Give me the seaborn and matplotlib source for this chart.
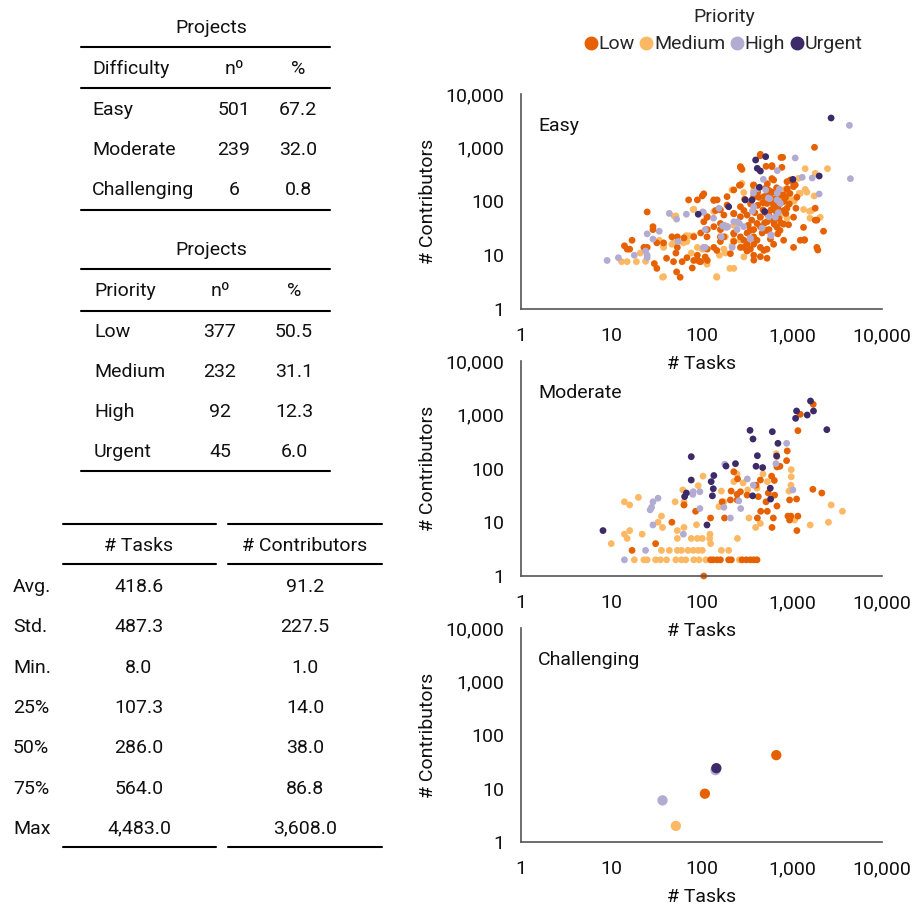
import matplotlib
matplotlib.use("Agg")
import matplotlib.pyplot as plt
from matplotlib.lines import Line2D
from matplotlib.ticker import FixedLocator, FuncFormatter, NullLocator
import pandas as pd
import seaborn as sns

# --- summary tables ---
difficulty_names = ["Easy", "Moderate", "Challenging"]
difficulty_counts = [501, 239, 6]
difficulty_pcts = [67.2, 32.0, 0.8]

priorities = ["Low", "Medium", "High", "Urgent"]
priority_counts = [377, 232, 92, 45]
priority_pcts = [50.5, 31.1, 12.3, 6.0]
priority_colors = ["#e66101", "#fdb863", "#b2abd2", "#3d2a68"]

stat_names = ["Avg.", "Std.", "Min.", "25%", "50%", "75%", "Max"]
stat_tasks = [418.6, 487.3, 8.0, 107.3, 286.0, 564.0, 4483.0]
stat_contributors = [91.2, 227.5, 1.0, 14.0, 38.0, 86.8, 3608.0]

# --- scatter points (tasks, contributors) ---
easy_urgent = [(2730, 3575), (514, 683), (398, 592), (415, 414), (449, 369), (1030, 258),
               (2014, 298), (438, 184), (306, 107), (363, 107), (200, 80), (92, 58), (501, 65)]

easy_high = [(4355, 2612), (4467, 266), (1093, 645), (691, 375), (1306, 282), (1686, 274),
             (2014, 138), (484, 258), (419, 173), (514, 164), (569, 113), (686, 107), (44, 60),
             (53, 47), (68, 58), (103, 64), (156, 75), (34, 28), (25, 25), (29, 20), (55, 18),
             (110, 14), (24, 12), (18, 10), (25, 10), (25, 9), (12, 9), (9, 8), (166, 22),
             (348, 20), (589, 23), (248, 30), (294, 34), (379, 80), (555, 52), (658, 51),
             (376, 144), (728, 170), (691, 144), (550, 116), (746, 93), (709, 62), (366, 66),
             (251, 42), (195, 34), (180, 36), (136, 49), (105, 63), (110, 30), (105, 14),
             (219, 14), (347, 21), (468, 32), (589, 24), (171, 35), (189, 33), (228, 42), (263, 39)]

easy_medium = [(2489, 408), (1820, 334), (1409, 408), (1189, 270), (1210, 142), (1409, 168),
               (1774, 127), (1352, 71), (1574, 66), (2065, 51), (1066, 102), (38, 4), (147, 4),
               (206, 5.7), (228, 5.7), (13, 7.6), (15, 7.6), (19, 7.6), (24, 7.7), (21, 11),
               (38, 15), (47, 16), (69, 23), (82, 23), (52, 54), (82, 72), (63, 17), (77, 11),
               (102, 13), (158, 10), (177, 13), (218, 15), (270, 19), (228, 36), (137, 65),
               (218, 164), (281, 218), (379, 164), (514, 30), (646, 37), (746, 54), (885, 49),
               (468, 100), (813, 164), (1021, 107), (34, 19), (38, 14), (49, 17), (50, 53),
               (67, 23), (74, 23), (81, 71), (69, 18), (90, 14), (105, 13), (148, 3.9),
               (37, 3.9), (115, 6.8), (294, 147), (741, 97), (890, 114), (1236, 141),
               (1470, 149), (1660, 68), (1590, 49), (184, 22), (226, 19), (295, 9.3), (184, 11)]

easy_low = [(1787, 1018), (449, 754), (792, 664), (604, 445), (519, 451), (270, 445), (281, 396),
            (778, 432), (630, 251), (885, 234), (962, 251), (1047, 218), (885, 168), (1093, 203),
            (270, 203), (379, 203), (228, 164), (192, 123), (137, 107), (102, 127), (90, 107),
            (72, 107), (149, 107), (270, 80), (379, 123), (489, 123), (578, 123), (686, 142),
            (813, 132), (532, 92), (630, 86), (746, 92), (885, 75), (1112, 75), (589, 70),
            (686, 60), (449, 52), (532, 42), (630, 42), (813, 38), (922, 37), (449, 34),
            (379, 30), (320, 26), (379, 22), (270, 22), (228, 26), (192, 34), (162, 30),
            (137, 34), (116, 30), (98, 26), (82, 22), (106, 42), (116, 52), (177, 56), (228, 60),
            (270, 52), (320, 56), (162, 70), (192, 86), (228, 18), (270, 14), (320, 16),
            (379, 16), (449, 14), (532, 13), (630, 16), (348, 13), (379, 10), (449, 9.4),
            (532, 8.8), (320, 12), (177, 22), (162, 18), (137, 14), (116, 13), (90, 10),
            (116, 8), (98, 7.6), (82, 8), (69, 9), (52, 11), (54, 14), (64, 21), (54, 22),
            (47, 22), (38, 17), (32, 17), (29, 34), (29, 30), (25, 64), (17, 19), (14, 15),
            (15, 13), (16, 13), (23, 14), (25, 14), (30, 7), (32, 5.7), (41, 8.8), (49, 7.6),
            (61, 7.6), (53, 4.9), (58, 3.9), (79, 5.8), (91, 8), (96, 7.6), (1387, 19.5),
            (1897, 14), (1945, 12.5), (2249, 28), (1820, 45), (1820, 75), (1140, 120),
            (1047, 189), (447, 710), (270, 430), (603, 465), (760, 660), (263, 200), (376, 200),
            (537, 214), (603, 267), (891, 174), (955, 141), (851, 118), (532, 129), (603, 97),
            (660, 68), (532, 59), (447, 51), (412, 39), (630, 45), (741, 29), (1380, 19),
            (1900, 45), (106, 139), (137, 105), (143, 68), (115, 51), (162, 39), (228, 59),
            (295, 68), (347, 29), (295, 19), (228, 25), (162, 22), (115, 22), (110, 9.3),
            (148, 12.3), (209, 10.7), (295, 14), (412, 19), (490, 12.3), (380, 8.1),
            (813, 68), (1047, 51), (686, 33), (532, 29), (813, 19), (1047, 14), (1242, 19),
            (1350, 33), (420, 150), (480, 95), (560, 160), (650, 110), (700, 75), (760, 130),
            (820, 100), (560, 55), (640, 38), (720, 48), (480, 70), (420, 85), (360, 45),
            (330, 36), (470, 26), (580, 20), (700, 25), (760, 40), (860, 60), (940, 90),
            (350, 90), (300, 110), (520, 180), (610, 150), (680, 180), (430, 120), (500, 40),
            (560, 30), (390, 62), (600, 110)]

moderate_urgent = [(1614, 1803), (1131, 1175), (1103, 858), (1483, 989), (1741, 1175),
                   (2447, 528), (345, 513), (372, 354), (609, 484), (703, 294), (680, 171),
                   (416, 173), (77, 166), (402, 110), (476, 104), (238, 123), (187, 111),
                   (137, 74), (77, 61), (128, 57), (68, 35), (65, 30), (135, 42), (132, 31),
                   (369, 31), (578, 43), (583, 27), (115, 8.9), (8.1, 7)]

moderate_high = [(877, 294), (668, 123), (181, 120), (1030, 40), (322, 64), (375, 49), (96, 37),
                 (81, 37), (80, 33), (33, 28), (29, 24), (28, 19), (27, 17), (96, 18), (177, 19),
                 (259, 25), (272, 18), (209, 12), (29, 8.9), (63, 6), (24, 3), (14, 2)]

moderate_medium = [(14, 24), (16, 21), (20, 29), (51, 24), (64, 24), (64, 21), (62, 40),
                   (104, 72), (92, 48), (166, 38), (248, 79), (228, 57), (289, 54), (325, 40),
                   (412, 43), (480, 79), (536, 57), (674, 189), (686, 166), (987, 95), (987, 70),
                   (979, 49), (931, 38), (156, 19.5), (177, 24), (36, 13), (33, 10), (37, 8),
                   (54, 7), (64, 8), (88, 9), (336, 12), (398, 8), (449, 9.5), (15, 5), (14, 6),
                   (16, 7), (22, 6), (10, 4), (54, 5), (77, 5), (90, 5), (102, 5), (123, 5),
                   (124, 6), (126, 4), (250, 5), (36, 3), (44, 3), (54, 3), (60, 3), (71, 3),
                   (81, 3), (92, 3), (102, 3), (166, 3), (200, 3), (18, 2), (23, 2), (25, 2),
                   (31, 2), (35, 2), (41, 2), (52, 2), (60, 2), (67, 2), (82, 2), (94, 2),
                   (112, 2), (263, 2), (1600, 8.9), (2553, 10), (2732, 21), (3647, 16), (1075, 11)]

moderate_low = [(1730, 1563), (1242, 1019), (1170, 506), (891, 212), (877, 140), (740, 110),
                (686, 107), (598, 72), (641, 60), (646, 32), (686, 20), (1714, 41), (2153, 35),
                (1131, 27), (946, 26), (1140, 7), (907, 13), (979, 13), (1170, 13), (946, 11),
                (625, 12), (604, 8), (453, 16), (536, 16), (416, 12), (449, 61), (402, 49),
                (550, 35), (519, 24), (426, 30), (213, 38), (248, 33), (209, 26), (248, 26),
                (320, 32), (270, 37), (169, 24), (180, 12), (126, 12), (86, 16), (64, 21),
                (47, 10), (31, 4), (17, 3), (126, 2), (135, 2), (149, 2), (162, 2), (200, 2),
                (214, 2), (281, 2), (314, 2), (348, 2), (379, 2), (412, 2), (106, 1), (228, 87),
                (251, 64)]

challenging_low = [(674, 42), (109, 8)]
challenging_medium = [(52, 2)]
challenging_high = [(143, 22), (37, 6)]
challenging_urgent = [(146, 24)]

# draw order: medium, low, high, urgent
groups = {
    "Easy": [("Medium", easy_medium), ("Low", easy_low), ("High", easy_high), ("Urgent", easy_urgent)],
    "Moderate": [("Medium", moderate_medium), ("Low", moderate_low), ("High", moderate_high),
                 ("Urgent", moderate_urgent)],
    "Challenging": [("Medium", challenging_medium), ("Low", challenging_low),
                    ("High", challenging_high), ("Urgent", challenging_urgent)],
}
rows = []
for diff, parts in groups.items():
    for prio, pts in parts:
        for t, c in pts:
            rows.append({"difficulty": diff, "priority": prio, "tasks": t, "contributors": c})
df = pd.DataFrame(rows)

sns.set_style("white")
plt.rcParams["font.family"] = ["Roboto", "DejaVu Sans"]
FS = 14
INK = "#111111"

W, H = 915, 907
fig = plt.figure(figsize=(W / 100, H / 100), dpi=100)


def fx(x):
    return x / W


def fy(y):
    return 1 - y / H


def hline(x0, x1, y):
    fig.add_artist(Line2D([fx(x0), fx(x1)], [fy(y), fy(y)], transform=fig.transFigure,
                          color="black", lw=1.5))


def txt(x, y, s, ha="center"):
    fig.text(fx(x), fy(y), s, ha=ha, va="center", fontsize=FS, color=INK)


# table 1: difficulty
txt(211, 28, "Projects")
hline(81, 330, 47)
txt(92, 69, "Difficulty", ha="left")
txt(234, 69, "nº")
txt(298, 69, "%")
hline(81, 330, 88)
for i, (name, n, p) in enumerate(zip(difficulty_names, difficulty_counts, difficulty_pcts)):
    y = 110 + i * 40
    txt(92, y, name, ha="left")
    txt(234, y, str(n))
    txt(298, y, f"{p:.1f}")
hline(81, 330, 210)

# table 2: priority
txt(211, 250, "Projects")
hline(81, 330, 269)
txt(94, 291, "Priority", ha="left")
txt(220, 291, "nº")
txt(294, 291, "%")
hline(81, 330, 311)
for i, (name, n, p) in enumerate(zip(priorities, priority_counts, priority_pcts)):
    y = 332 + i * 40
    txt(94, y, name, ha="left")
    txt(220, y, str(n))
    txt(294, y, f"{p:.1f}")
hline(81, 330, 471)

# table 3: descriptive stats
hline(63, 216, 524)
hline(228, 382, 524)
txt(139, 546, "# Tasks")
txt(305, 546, "# Contributors")
hline(63, 216, 564)
hline(228, 382, 564)
for i, (name, a, b) in enumerate(zip(stat_names, stat_tasks, stat_contributors)):
    y = 587 + i * 40.3
    txt(13, y, name, ha="left")
    txt(139, y, f"{a:,.1f}")
    txt(305, y, f"{b:,.1f}")
hline(63, 216, 847)
hline(228, 382, 847)

# scatter panels
palette = dict(zip(priorities, priority_colors))
panels = [("Easy", 94, 309, 24), ("Moderate", 361, 576, 24), ("Challenging", 628, 842, 55)]
ticks = [1, 10, 100, 1000, 10000]
for name, top, bottom, size in panels:
    ax = fig.add_axes([fx(521), fy(bottom), fx(882) - fx(521), (bottom - top) / H])
    ax.patch.set_visible(False)
    sub = df[df["difficulty"] == name]
    sns.scatterplot(data=sub, x="tasks", y="contributors", hue="priority", palette=palette,
                    s=size, linewidth=0, alpha=1, legend=False, ax=ax, clip_on=False)
    ax.set_xscale("log")
    ax.set_yscale("log")
    ax.set_xlim(1, 10000)
    ax.set_ylim(1, 10000)
    for axis in (ax.xaxis, ax.yaxis):
        axis.set_major_locator(FixedLocator(ticks))
        axis.set_minor_locator(NullLocator())
        axis.set_major_formatter(FuncFormatter(lambda v, _: f"{v:,.0f}"))
    ax.tick_params(axis="y", length=0, labelsize=FS, pad=12, colors=INK)
    ax.tick_params(axis="x", length=0, labelsize=FS, pad=13, colors=INK)
    ax.set_xlabel("# Tasks", fontsize=FS, labelpad=7, color=INK)
    ax.set_ylabel("# Contributors", fontsize=FS, labelpad=6, color=INK)
    sns.despine(ax=ax)
    for side in ("left", "bottom"):
        ax.spines[side].set_color("#555555")
        ax.spines[side].set_linewidth(1.2)
    ax.text(0.047, 0.85, name, transform=ax.transAxes, fontsize=FS, va="center", color=INK)

handles = [Line2D([], [], marker="o", linestyle="", markersize=9, color=c) for c in priority_colors]
fig.legend(handles, priorities, loc="upper center", bbox_to_anchor=(fx(724), 1.0), ncol=4,
           frameon=False, title="Priority", fontsize=FS, title_fontsize=FS, handlelength=0.5,
           handletextpad=0.15, columnspacing=0.35, borderaxespad=0.15, borderpad=0.25)

fig.savefig("out.png", dpi=100)
